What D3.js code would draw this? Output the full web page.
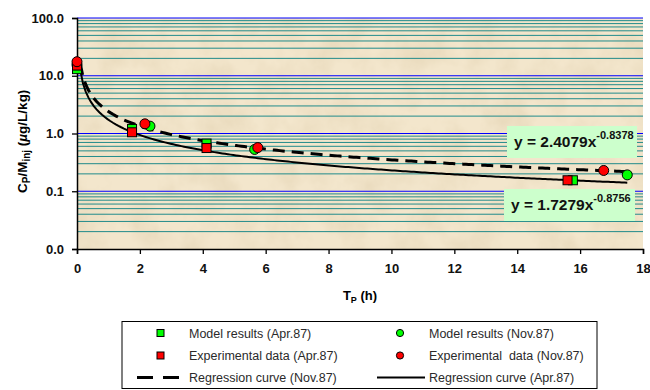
<!DOCTYPE html>
<html>
<head>
<meta charset="utf-8">
<script src="https://cdn.jsdelivr.net/npm/d3@7"></script>
<style>
  body { margin: 0; background: #fff; }
  svg { display: block; font-family: Arial, "Liberation Sans", sans-serif; }
</style>
</head>
<body>
<svg id="chart" width="650" height="390"></svg>
<script>
// Apr.87 model results (green squares)
var aprModelT = [0, 1.75, 4.12, 15.77];
var aprModelV = [13, 1.2, 0.67, 0.155];
// Apr.87 experimental data (red squares)
var aprExpT = [0, 1.75, 4.12, 15.6];
var aprExpV = [15, 1.05, 0.56, 0.155];
// Nov.87 model results (green circles)
var novModelT = [0, 2.32, 5.65, 17.5];
var novModelV = [15.5, 1.34, 0.53, 0.192];
// Nov.87 experimental data (red circles)
var novExpT = [0, 2.16, 5.75, 16.75];
var novExpV = [17.5, 1.47, 0.57, 0.229];
// regression (power) curves: [coefficient, exponent, tStart, tEnd]
var novFit = [2.4079, -0.8378, 0.1, 17.5];
var aprFit = [1.7279, -0.8756, 0.1, 17.5];

var xTicks = [0, 2, 4, 6, 8, 10, 12, 14, 16, 18];
var yTicks = [0.01, 0.1, 1, 10, 100];

var svg = d3.select("#chart");
var plotL = 77, plotR = 643, plotT = 18, plotB = 249;

var x = d3.scaleLinear().domain([0, 18]).range([plotL, plotR]);
var y = d3.scaleLog().domain([0.01, 100]).range([plotB, plotT]);

// parchment-like background
var defs = svg.append("defs");
var filt = defs.append("filter").attr("id", "parch")
  .attr("x", 0).attr("y", 0).attr("width", 1).attr("height", 1);
filt.append("feTurbulence").attr("type", "fractalNoise")
  .attr("baseFrequency", "0.03").attr("numOctaves", 5).attr("seed", 3);
filt.append("feColorMatrix").attr("type", "matrix")
  .attr("values", "0 0 0 0 0.72  0 0 0 0 0.60  0 0 0 0 0.40  0.85 0 0 0 -0.32");

svg.append("rect")
  .attr("x", plotL).attr("y", plotT)
  .attr("width", plotR - plotL).attr("height", plotB - plotT)
  .style("fill", "#f3e6cc");
svg.append("rect")
  .attr("x", plotL).attr("y", plotT)
  .attr("width", plotR - plotL).attr("height", plotB - plotT)
  .attr("filter", "url(#parch)");

// gridlines
var minor = [];
[0.01, 0.1, 1, 10].forEach(function(d) {
  for (var k = 2; k <= 9; k++) minor.push(d * k);
});
svg.selectAll(".minor-grid").data(minor).enter()
  .append("line").classed("minor-grid", true)
  .attr("x1", plotL).attr("x2", plotR)
  .attr("y1", function(d) { return y(d); })
  .attr("y2", function(d) { return y(d); })
  .style("stroke", "#218b8b").style("stroke-width", 1);
svg.selectAll(".major-grid").data(yTicks.slice(1)).enter()
  .append("line").classed("major-grid", true)
  .attr("x1", plotL).attr("x2", plotR)
  .attr("y1", function(d) { return y(d); })
  .attr("y2", function(d) { return y(d); })
  .style("stroke", "#0000ff").style("stroke-width", 1.2);

// axes
var yAxis = svg.append("g")
  .attr("transform", "translate(" + plotL + ",0)")
  .call(d3.axisLeft(y).tickValues(yTicks).tickFormat(d3.format(".1f")).tickSize(5).tickPadding(8));
var xAxis = svg.append("g")
  .attr("transform", "translate(0," + plotB + ")")
  .call(d3.axisBottom(x).tickValues(xTicks).tickSize(5).tickPadding(10));
[xAxis, yAxis].forEach(function(a) {
  a.select(".domain").style("stroke", "#000").style("stroke-width", 1.5);
  a.selectAll(".tick line").style("stroke", "#000").style("stroke-width", 1.3);
  a.selectAll("text").style("font-size", "13px").style("font-weight", "bold")
    .style("fill", "#111").style("font-family", "Arial, 'Liberation Sans', sans-serif");
});

// axis titles
var xt = svg.append("text")
  .attr("x", (plotL + plotR) / 2).attr("y", 300)
  .style("text-anchor", "middle").style("font-size", "13px").style("font-weight", "bold");
xt.append("tspan").text("T");
xt.append("tspan").attr("dy", 3).style("font-size", "9px").text("P");
xt.append("tspan").attr("dy", -3).text(" (h)");

// y title: starts next to the 0.1 label and runs upward
var yt = svg.append("text")
  .attr("transform", "translate(27,0) rotate(-90)")
  .attr("x", -193)
  .style("text-anchor", "start").style("font-size", "13.5px").style("font-weight", "bold");
yt.append("tspan").text("C");
yt.append("tspan").attr("dy", 3).style("font-size", "10px").text("P");
yt.append("tspan").attr("dy", -3).text("/M");
yt.append("tspan").attr("dy", 3).style("font-size", "10px").text("inj");
yt.append("tspan").attr("dy", -3).text(" (");
yt.append("tspan").style("font-style", "italic").text("\u00b5");
yt.append("tspan").text("g/L/kg)");

// regression curves
function curvePoints(fit) {
  var pts = [];
  var n = 200;
  for (var i = 0; i <= n; i++) {
    var t = fit[2] + (fit[3] - fit[2]) * i / n;
    pts.push([t, fit[0] * Math.pow(t, fit[1])]);
  }
  return pts;
}
var line = d3.line().x(function(d) { return x(d[0]); }).y(function(d) { return y(d[1]); });

svg.append("path").datum(curvePoints(aprFit))
  .attr("d", line)
  .style("fill", "none").style("stroke", "#000").style("stroke-width", 2);
svg.append("path").datum(curvePoints(novFit))
  .attr("d", line)
  .style("fill", "none").style("stroke", "#000").style("stroke-width", 3)
  .style("stroke-dasharray", "12,7");

// markers
function zip(t, v) { return t.map(function(d, i) { return { t: d, v: v[i] }; }); }

function squares(data, color, cls) {
  svg.selectAll("." + cls).data(data).enter()
    .append("rect").classed(cls, true)
    .attr("x", function(d) { return x(d.t) - 4.5; })
    .attr("y", function(d) { return y(d.v) - 4.5; })
    .attr("width", 9).attr("height", 9)
    .style("fill", color).style("stroke", "#000").style("stroke-width", 1);
}
function circles(data, color, cls) {
  svg.selectAll("." + cls).data(data).enter()
    .append("circle").classed(cls, true)
    .attr("cx", function(d) { return x(d.t); })
    .attr("cy", function(d) { return y(d.v); })
    .attr("r", 5)
    .style("fill", color).style("stroke", "#000").style("stroke-width", 1);
}
circles(zip(novModelT, novModelV), "#00ff00", "nov-model");
squares(zip(aprModelT, aprModelV), "#00ff00", "apr-model");
squares(zip(aprExpT, aprExpV), "#ff0000", "apr-exp");
circles(zip(novExpT, novExpV), "#ff0000", "nov-exp");

// equation labels
function eqLabel(bx, by, bw, bh, base, coef, expo) {
  svg.append("rect").attr("x", bx).attr("y", by).attr("width", bw).attr("height", bh)
    .style("fill", "#ccffcc");
  var t = svg.append("text").attr("x", bx + 7).attr("y", base)
    .style("font-size", "15.5px").style("font-weight", "bold").style("fill", "#111");
  t.append("tspan").text("y = " + coef + "x");
  t.append("tspan").attr("dy", -8).style("font-size", "11px").text(expo);
}
eqLabel(507, 126, 130, 32, 147, "2.4079", "-0.8378");
eqLabel(504, 189, 131, 32, 210, "1.7279", "-0.8756");

// legend
var lg = svg.append("g");
lg.append("rect").attr("x", 122).attr("y", 321.5).attr("width", 475).attr("height", 67)
  .style("fill", "#fff").style("stroke", "#000").style("stroke-width", 1);
var rowY = [333, 355.5, 377.5];
var legendItems = [
  { col: 0, row: 0, type: "square", color: "#00ff00", label: "Model results (Apr.87)" },
  { col: 0, row: 1, type: "square", color: "#ff0000", label: "Experimental data (Apr.87)" },
  { col: 0, row: 2, type: "dash", label: "Regression curve (Nov.87)" },
  { col: 1, row: 0, type: "circle", color: "#00ff00", label: "Model results (Nov.87)" },
  { col: 1, row: 1, type: "circle", color: "#ff0000", label: "Experimental  data (Nov.87)" },
  { col: 1, row: 2, type: "solid", label: "Regression curve (Apr.87)" }
];
var colMarker = [160.5, 400], colLineX = [[137, 180], [377, 425]], colText = [189, 429];
legendItems.forEach(function(it) {
  var cy = rowY[it.row];
  if (it.type === "square") {
    lg.append("rect").attr("x", colMarker[it.col] - 3.5).attr("y", cy - 3.5)
      .attr("width", 7).attr("height", 7)
      .style("fill", it.color).style("stroke", "#000").style("stroke-width", 1);
  } else if (it.type === "circle") {
    lg.append("circle").attr("cx", colMarker[it.col]).attr("cy", cy).attr("r", 3.6)
      .style("fill", it.color).style("stroke", "#000").style("stroke-width", 1);
  } else {
    lg.append("line")
      .attr("x1", colLineX[it.col][0]).attr("x2", colLineX[it.col][1])
      .attr("y1", cy).attr("y2", cy)
      .style("stroke", "#000")
      .style("stroke-width", it.type === "dash" ? 3 : 2)
      .style("stroke-dasharray", it.type === "dash" ? "16,10" : null);
  }
  lg.append("text").attr("x", colText[it.col]).attr("y", cy + 4.5)
    .style("font-size", "12.5px").style("fill", "#2a2a2a")
    .style("white-space", "pre").attr("xml:space", "preserve")
    .text(it.label);
});
</script>
</body>
</html>
